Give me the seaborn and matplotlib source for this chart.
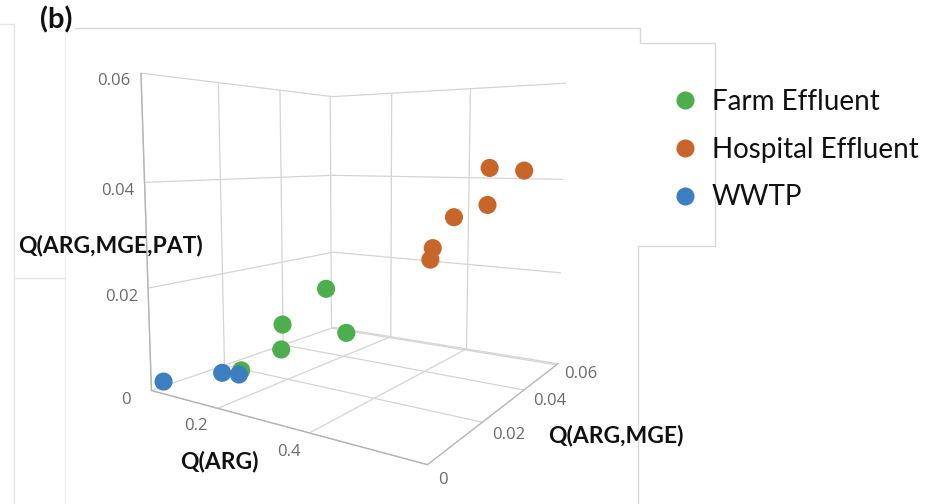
import matplotlib
matplotlib.use("Agg")
import matplotlib.pyplot as plt
from matplotlib.lines import Line2D
import seaborn as sns

# Quotient values per sample: Q(ARG), Q(ARG,MGE), Q(ARG,MGE,PAT)
farm_arg = [0.186, 0.238, 0.206, 0.250, 0.342]
farm_mge = [0.0079, 0.0133, 0.0178, 0.0263, 0.0196]
farm_pat = [0.0047, 0.0083, 0.0118, 0.0181, 0.0117]

hospital_arg = [0.457, 0.534, 0.488, 0.430, 0.424, 0.431]
hospital_mge = [0.0588, 0.0588, 0.0504, 0.0468, 0.0384, 0.0360]
hospital_pat = [0.0423, 0.0418, 0.0347, 0.0321, 0.0264, 0.0244]

wwtp_arg = [0.045, 0.154, 0.191]
wwtp_mge = [0.0017, 0.0062, 0.0067]
wwtp_pat = [0.0016, 0.0041, 0.0043]

groups = ["Farm Effluent", "Hospital Effluent", "WWTP"]
x_ticks = [0.2, 0.4]
y_ticks = [0, 0.02, 0.04, 0.06]
z_ticks = [0, 0.02, 0.04, 0.06]
x_tick_labels = ["0.2", "0.4"]
y_tick_labels = ["0", "0.02", "0.04", "0.06"]
z_tick_labels = ["0", "0.02", "0.04", "0.06"]

sns.set_theme(style="white")
plt.rcParams["font.family"] = ["Lato", "DejaVu Sans"]
plt.rcParams["grid.color"] = "#d4d4d4"
plt.rcParams["grid.linewidth"] = 0.9

palette = sns.color_palette(["#4cae4c", "#c8662a", "#3b7fc1"])

fig = plt.figure(figsize=(9.46, 5.04), dpi=100)
ax = fig.add_axes([0.1005, -0.002, 0.56, 1.06], projection="3d")
ax.view_init(elev=6, azim=-57)
ax.set_proj_type("persp", focal_length=0.245)
ax.set_box_aspect((1, 1, 1.0), zoom=0.95)

series = [
    (farm_arg, farm_mge, farm_pat),
    (hospital_arg, hospital_mge, hospital_pat),
    (wwtp_arg, wwtp_mge, wwtp_pat),
]
for (xs, ys, zs), color, name in zip(series, palette, groups):
    ax.scatter(xs, ys, zs, s=170, color=color, edgecolors="none",
               depthshade=False, alpha=1, label=name)

ax.set_xlim(0.03, 0.61)
ax.set_ylim(0, 0.061)
ax.set_zlim(0, 0.06)
ax.set_xticks(x_ticks, x_tick_labels, ha="right", va="center")
ax.set_yticks(y_ticks, y_tick_labels, ha="left", va="center")
ax.set_zticks(z_ticks, z_tick_labels)
ax.zaxis.set_ticks_position("lower")

for axis in (ax.xaxis, ax.yaxis, ax.zaxis):
    axis.set_pane_color((1, 1, 1, 1))
    axis.line.set_color("#b5b5b5")
    axis.line.set_linewidth(1.0)
    axis._axinfo["tick"]["inward_factor"] = 0.0
    axis._axinfo["tick"]["outward_factor"] = 0.0
ax.tick_params(axis="both", labelsize=12, colors="#6a6a6a")
ax.tick_params(axis="x", pad=0)
ax.tick_params(axis="y", pad=-2)
ax.tick_params(axis="z", pad=3)
for lbl in ax.get_xticklabels() + ax.get_yticklabels() + ax.get_zticklabels():
    lbl.set_fontfamily(["Open Sans", "DejaVu Sans"])
ax.set_xlabel("")
ax.set_ylabel("")
ax.set_zlabel("")

# Axis titles
label_kw = dict(fontsize=16.5, fontweight="bold", color="#111111")
fig.text(18 / 946, 1 - 246 / 504, "Q(ARG,MGE,PAT)", ha="left", va="center", **label_kw)
fig.text(180 / 946, 1 - 462 / 504, "Q(ARG)", ha="left", va="center", **label_kw)
fig.text(548 / 946, 1 - 435 / 504, "Q(ARG,MGE)", ha="left", va="center", **label_kw)
fig.text(40 / 946, 1 - 20 / 504, "(b)", ha="left", va="center",
         fontsize=21, fontweight="bold", color="#111111")

# Legend
handles = [Line2D([], [], marker="o", linestyle="none", markersize=13,
                  markerfacecolor=c, markeredgecolor="none") for c in palette]
fig.legend(handles, groups, loc="upper left", bbox_to_anchor=(674 / 946, 1 - 89 / 504),
           frameon=False, fontsize=20, labelspacing=0.78, handletextpad=0.55,
           handlelength=0.8, borderaxespad=0, borderpad=0, labelcolor="#111111")

# Panel borders
def fig_line(xs, ys, color="#d9d9d9", lw=1.0):
    fig.add_artist(Line2D([x / 946 for x in xs], [1 - y / 504 for y in ys],
                          color=color, lw=lw, transform=fig.transFigure))

fig_line([75, 640, 640, 715, 715], [28, 28, 43, 43, 246])
fig_line([715, 638, 638], [246, 246, 504])
fig_line([0, 14, 14], [24, 24, 504], color="#e6e6e6")
fig_line([65, 65], [30, 504], color="#f0f0f0")
fig_line([14, 65], [278, 278], color="#e6e6e6")

fig.savefig("out.png", dpi=100)
